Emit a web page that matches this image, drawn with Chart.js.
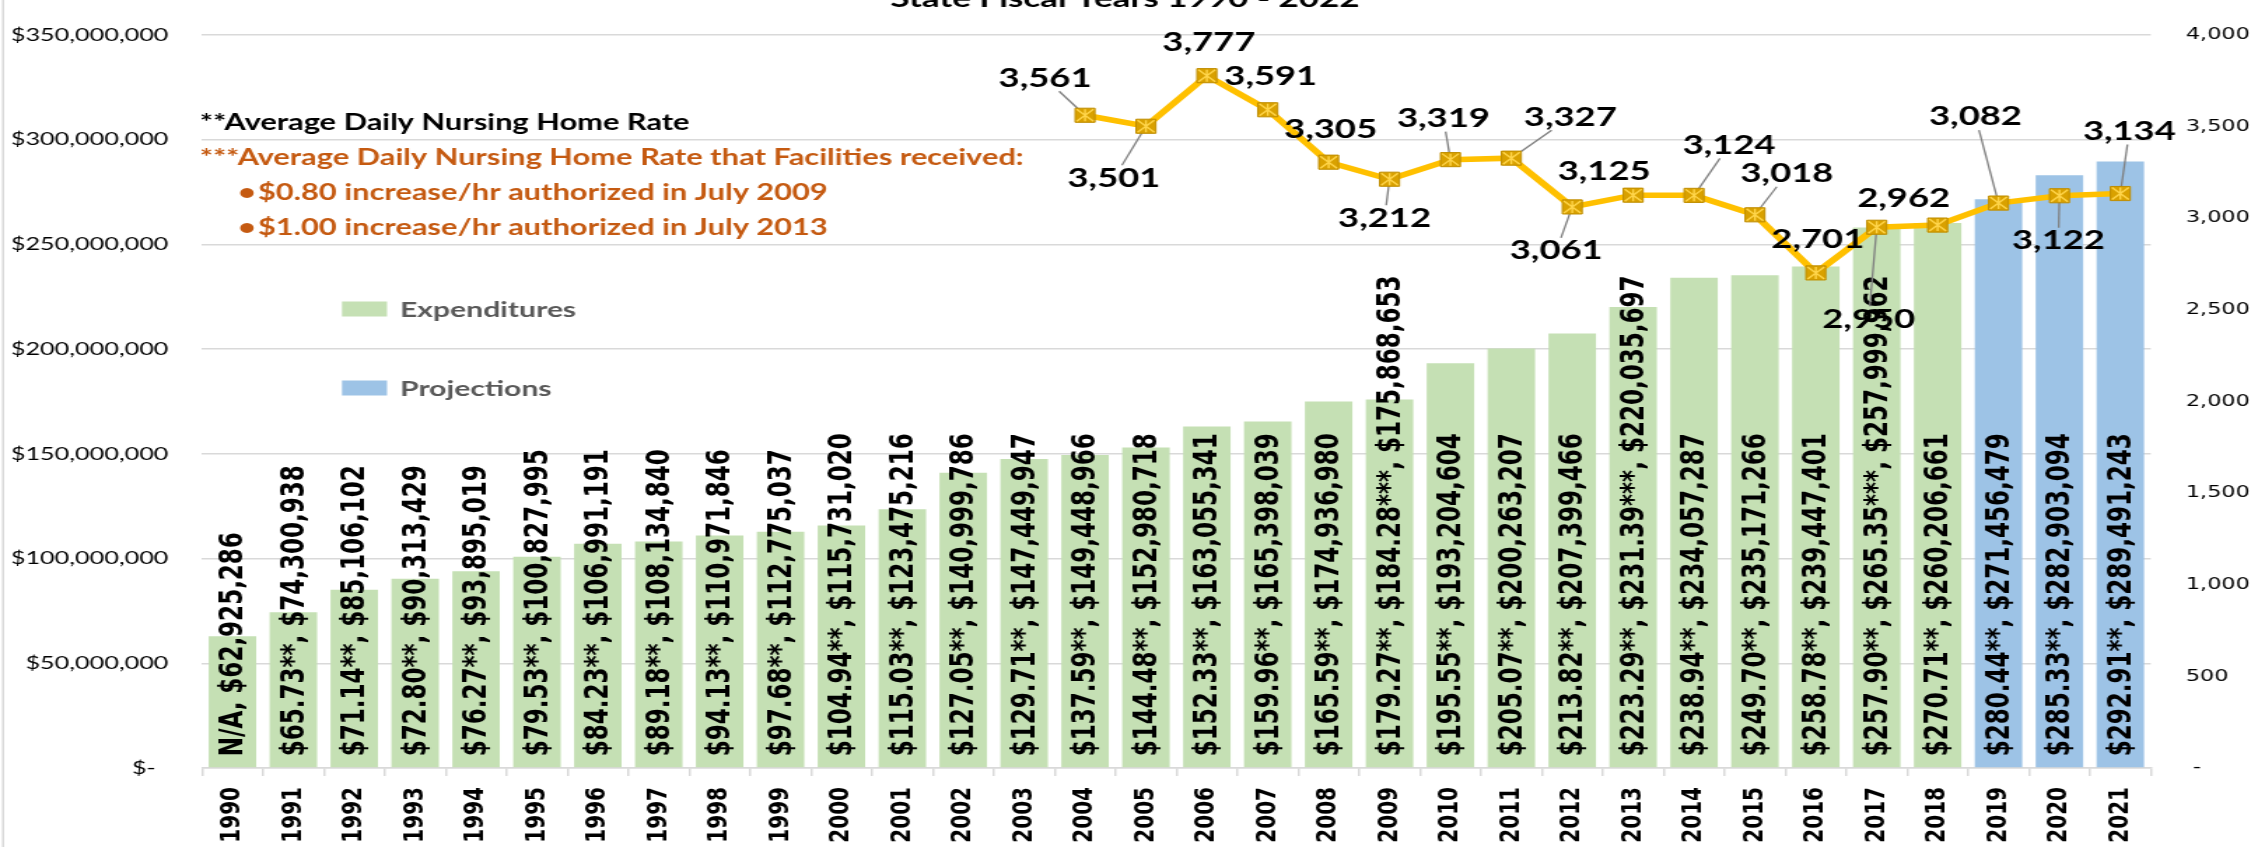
<!DOCTYPE html>
<html>
<head>
<meta charset="utf-8">
<script src="https://cdn.jsdelivr.net/npm/chart.js@4.4.1/dist/chart.umd.min.js"></script>
<style>
html,body{margin:0;padding:0;background:#fff;overflow:hidden;}
canvas{display:block;}
</style>
</head>
<body>
<canvas id="c" width="1608" height="847" style="width:2251px;height:847px;"></canvas>
<script>
// ---------------- DATA ----------------
const years = ['1990','1991','1992','1993','1994','1995','1996','1997','1998','1999','2000','2001','2002','2003','2004','2005','2006','2007','2008','2009','2010','2011','2012','2013','2014','2015','2016','2017','2018','2019','2020','2021'];

// Expenditures, SFY 1990-2018
const expenditures = [62925286, 74300938, 85106102, 90313429, 93895019, 100827995, 106991191, 108134840, 110971846, 112775037, 115731020, 123475216, 140999786, 147449947, 149448966, 152980718, 163055341, 165398039, 174936980, 175868653, 193204604, 200263207, 207399466, 220035697, 234057287, 235171266, 239447401, 257999962, 260206661];

// Projections, SFY 2019-2021
const projectionYears = ['2019','2020','2021'];
const projections = [271456479, 282903094, 289491243];

// **Average Daily Nursing Home Rate (null = N/A)
const avgDailyRate = [null, 65.73, 71.14, 72.80, 76.27, 79.53, 84.23, 89.18, 94.13, 97.68, 104.94, 115.03, 127.05, 129.71, 137.59, 144.48, 152.33, 159.96, 165.59, 179.27, 195.55, 205.07, 213.82, 223.29, 238.94, 249.70, 258.78, 257.90, 270.71, 280.44, 285.33, 292.91];

// ***Average Daily Nursing Home Rate that Facilities received
const facilityRateYears = ['2009','2013','2017'];
const facilityRates = [184.28, 231.39, 265.35];

// Right-axis line series, SFY 2004-2021
const lineYears = ['2004','2005','2006','2007','2008','2009','2010','2011','2012','2013','2014','2015','2016','2017','2018','2019','2020','2021'];
const lineValues = [3561, 3501, 3777, 3591, 3305, 3212, 3319, 3327, 3061, 3125, 3124, 3018, 2701, 2950, 2962, 3082, 3122, 3134];

// Tick values
const leftTicks = [0, 50000000, 100000000, 150000000, 200000000, 250000000, 300000000, 350000000];
const rightTicks = [0, 500, 1000, 1500, 2000, 2500, 3000, 3500, 4000];

const titleText = 'State Fiscal Years 1990 - 2022';
const noteLines = [
  {text: '**Average Daily Nursing Home Rate', color: '#000000', bullet: false},
  {text: '***Average Daily Nursing Home Rate that Facilities received:', color: '#C55A11', bullet: false},
  {text: '$0.80 increase/hr authorized in July 2009', color: '#C55A11', bullet: true},
  {text: '$1.00 increase/hr authorized in July 2013', color: '#C55A11', bullet: true}
];

// ---------------- BUILD ----------------
const actualData = years.map((y, i) => i < expenditures.length ? expenditures[i] : null);
const projData = years.map(y => { const j = projectionYears.indexOf(y); return j >= 0 ? projections[j] : null; });
const lineData = years.map(y => { const j = lineYears.indexOf(y); return j >= 0 ? lineValues[j] : null; });

const SX = 2251 / 1608; // horizontal stretch of the canvas

// label placement for the line labels (offsets in page px from the point), leader flag
const lineLabelPlacement = [
  [-40,-37,1],[-32,52,1],[2,-33,0],[3,-33,0],[2,-33,0],[-5,39,1],[-7,-41,1],[59,-41,1],[-16,44,1],
  [-29,-24,0],[35,-50,1],[32,-41,1],[2,-33,0],[-8,92,1],[-34,-26,0],[-23,-86,1],[-1,45,1],[9,-62,1]
];

const fmtInt = v => Math.round(v).toLocaleString('en-US');

function barLabel(i) {
  const yr = years[i];
  const r = avgDailyRate[i];
  let s = r == null ? 'N/A' : '$' + r.toFixed(2) + '**';
  const k = facilityRateYears.indexOf(yr);
  if (k >= 0) s += ', $' + facilityRates[k].toFixed(2) + '***';
  const v = actualData[i] != null ? actualData[i] : projData[i];
  s += ', $' + fmtInt(v);
  return s;
}

const LABEL_FONT = 'bold 26px Lato';

const barLabelPlugin = {
  id: 'barLabelsAndLeaders',
  beforeDatasetDraw(chart, args) {
    if (args.index !== 0) return;
    const ctx = chart.ctx;
    ctx.save();
    // rotated bar labels
    ctx.font = 'bold 23px "DejaVu Sans"';
    ctx.fillStyle = '#000';
    ctx.textAlign = 'left';
    ctx.textBaseline = 'middle';
    years.forEach((yr, i) => {
      const dsIndex = actualData[i] != null ? 1 : 2;
      const el = chart.getDatasetMeta(dsIndex).data[i];
      if (!el) return;
      ctx.save();
      ctx.translate(el.x, el.base - 11);
      ctx.rotate(-Math.PI / 2);
      ctx.fillText(barLabel(i), 0, 1);
      ctx.restore();
    });
    // leader lines for line labels
    const meta = chart.getDatasetMeta(0);
    ctx.font = LABEL_FONT;
    ctx.strokeStyle = '#7F7F7F';
    ctx.lineWidth = 1.3;
    let n = 0;
    years.forEach((yr, i) => {
      if (lineData[i] == null) return;
      const p = lineLabelPlacement[n++];
      if (!p[2]) return;
      const pt = meta.data[i];
      const lx = pt.x + p[0] / SX, ly = pt.y + p[1];
      const hw = ctx.measureText(fmtInt(lineData[i])).width / 2 + 2;
      const hh = 13;
      const dx = pt.x - lx, dy = pt.y - ly;
      const t = Math.min(dx !== 0 ? hw / Math.abs(dx) : 1e9, dy !== 0 ? hh / Math.abs(dy) : 1e9);
      ctx.beginPath();
      ctx.moveTo(lx + dx * t, ly + dy * t);
      ctx.lineTo(pt.x, pt.y);
      ctx.stroke();
    });
    ctx.restore();
  },
  afterDatasetsDraw(chart) {
    const ctx = chart.ctx;
    const meta = chart.getDatasetMeta(0);
    ctx.save();
    // star marks inside the square markers
    ctx.strokeStyle = '#FFD54A';
    ctx.lineWidth = 1.4;
    years.forEach((yr, i) => {
      if (lineData[i] == null) return;
      const pt = meta.data[i];
      const h = 6;
      ctx.beginPath();
      ctx.moveTo(pt.x - h, pt.y - h); ctx.lineTo(pt.x + h, pt.y + h);
      ctx.moveTo(pt.x + h, pt.y - h); ctx.lineTo(pt.x - h, pt.y + h);
      ctx.moveTo(pt.x, pt.y - h); ctx.lineTo(pt.x, pt.y + h);
      ctx.stroke();
    });
    // line labels
    ctx.font = LABEL_FONT;
    ctx.fillStyle = '#000';
    ctx.textAlign = 'center';
    ctx.textBaseline = 'middle';
    let n = 0;
    years.forEach((yr, i) => {
      if (lineData[i] == null) return;
      const p = lineLabelPlacement[n++];
      const pt = meta.data[i];
      ctx.fillText(fmtInt(lineData[i]), pt.x + p[0] / SX, pt.y + p[1]);
    });
    ctx.restore();
  },
  afterDraw(chart) {
    const ctx = chart.ctx;
    ctx.save();
    // left border line
    ctx.strokeStyle = '#D9D9D9';
    ctx.lineWidth = 1.5;
    ctx.beginPath(); ctx.moveTo(2.2, 0); ctx.lineTo(2.2, 847); ctx.stroke();
    // title (cut off at top)
    ctx.fillStyle = '#000';
    ctx.font = 'bold 25px Lato';
    ctx.textAlign = 'center';
    ctx.textBaseline = 'alphabetic';
    ctx.fillText(titleText, 1125 / SX, 7);
    // notes
    ctx.textAlign = 'left';
    ctx.textBaseline = 'middle';
    ctx.font = 'bold 22px Lato';
    const ys = [123, 158, 193, 228];
    noteLines.forEach((ln, k) => {
      ctx.fillStyle = ln.color;
      if (ln.bullet) {
        ctx.fillText('\u2022', 238 / SX, ys[k]);
        ctx.fillText(ln.text, 258 / SX, ys[k]);
      } else {
        ctx.fillText(ln.text, 200 / SX, ys[k]);
      }
    });
    // legend
    const legend = [
      {text: 'Expenditures', color: chart.data.datasets[1].backgroundColor, y: 309},
      {text: 'Projections', color: chart.data.datasets[2].backgroundColor, y: 388}
    ];
    ctx.font = 'bold 21.5px Lato';
    legend.forEach(l => {
      ctx.fillStyle = l.color;
      ctx.fillRect(342 / SX, l.y - 7.5, 45 / SX, 15);
      ctx.fillStyle = '#595959';
      ctx.fillText(l.text, 400 / SX, l.y + 1);
    });
    ctx.restore();
  }
};

const ctx = document.getElementById('c').getContext('2d');
new Chart(ctx, {
  type: 'bar',
  data: {
    labels: years,
    datasets: [
      {
        type: 'line', label: 'Line', data: lineData, yAxisID: 'y1', order: 0,
        borderColor: '#FFC000', borderWidth: 5.5, tension: 0,
        pointStyle: 'rect', pointRadius: 10, pointHoverRadius: 10,
        pointBackgroundColor: '#D9A100', pointBorderColor: '#C08E00', pointBorderWidth: 1
      },
      { label: 'Expenditures', data: actualData, backgroundColor: '#C5E0B4', order: 2, yAxisID: 'y', categoryPercentage: 0.78, barPercentage: 1 },
      { label: 'Projections', data: projData, backgroundColor: '#9DC3E6', order: 2, yAxisID: 'y', categoryPercentage: 0.78, barPercentage: 1 }
    ]
  },
  options: {
    responsive: false,
    animation: false,
    devicePixelRatio: 1,
    layout: { padding: { top: 18, left: 0, right: 0, bottom: 0 } },
    plugins: { legend: { display: false }, tooltip: { enabled: false }, title: { display: false } },
    scales: {
      x: {
        stacked: true,
        grid: { offset: true, drawOnChartArea: false, color: '#D9D9D9', lineWidth: 1.5, tickLength: 8 },
        border: { color: '#D9D9D9', width: 1.5 },
        ticks: { autoSkip: false, maxRotation: 90, minRotation: 90, padding: 11, color: '#000', font: { family: 'DejaVu Sans', weight: 'bold', size: 20 } },
        afterFit(s) { s.height = 79; }
      },
      y: {
        stacked: true, position: 'left', min: 0, max: 350000000,
        afterBuildTicks(s) { s.ticks = leftTicks.map(v => ({ value: v })); },
        grid: { color: '#D9D9D9', lineWidth: 1.5, drawTicks: false },
        border: { display: false },
        ticks: {
          padding: 24, color: '#000', font: { family: 'Lato', size: 18 },
          callback: v => v === 0 ? '$-\u2002' : '$' + fmtInt(v)
        },
        afterFit(s) { s.width = 144.3; }
      },
      y1: {
        position: 'right', min: 0, max: 4000,
        afterBuildTicks(s) { s.ticks = rightTicks.map(v => ({ value: v })); },
        grid: { drawOnChartArea: false, drawTicks: false },
        border: { display: false },
        ticks: {
          padding: 25, color: '#000', font: { family: 'DejaVu Sans', size: 16 },
          callback: v => v === 0 ? ' -' : fmtInt(v)
        },
        afterFit(s) { s.width = 1608 - 1536.4; }
      }
    }
  },
  plugins: [barLabelPlugin]
});
</script>
</body>
</html>
